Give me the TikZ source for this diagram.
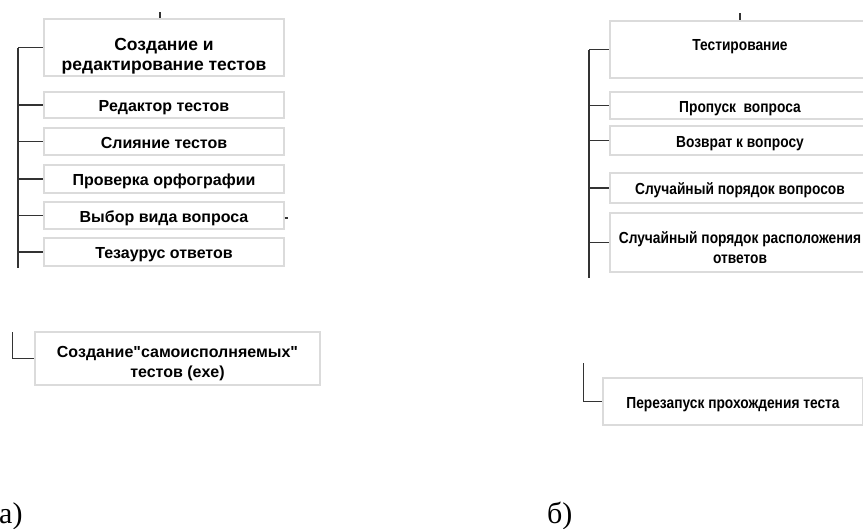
\documentclass[tikz,border=0pt]{standalone}
\usepackage{fontspec}
\setmainfont{Liberation Serif}
\newfontfamily\boxfont{Liberation Sans}
\newfontfamily\narrowfont[FakeStretch=0.86]{Liberation Sans}

\tikzset{
  box/.style={draw=black!14, line width=1.4pt, fill=white, inner sep=0pt},
  oneline/.style={text height=13pt, text depth=0pt},
  lbl/.style={font=\boxfont\bfseries\fontsize{16}{20}\selectfont, text=black, align=center},
  biglbl/.style={font=\boxfont\bfseries\fontsize{17.5}{20}\selectfont, text=black, align=center},
  rlbl/.style={font=\narrowfont\bfseries\fontsize{16}{20}\selectfont, text=black, align=center},
  wire/.style={draw=black!80, line width=1.3pt},
  caption/.style={font=\fontsize{30}{32}\selectfont, anchor=base west, inner sep=0pt}
}

\begin{document}
\begin{tikzpicture}[x=1pt, y=-1pt]
  \useasboundingbox (0,0) rectangle (863,528);
  \clip (0,0) rectangle (863,528);

  % ---- left tree: test creation and editing ----
  \node[box, minimum width=240pt, minimum height=57pt] (l0) at (164,47.5) {};
  \node[biglbl] (l0t) at (164,56) {Создание и\\редактирование тестов};
  \node[box, lbl, oneline, minimum width=240pt, minimum height=26pt] (l1) at (164,105) {Редактор тестов};
  \node[box, lbl, oneline, minimum width=240pt, minimum height=27pt] (l2) at (164,141.5) {Слияние тестов};
  \node[box, lbl, oneline, minimum width=240pt, minimum height=28pt] (l3) at (164,179) {Проверка орфографии};
  \node[box, lbl, oneline, minimum width=240pt, minimum height=27pt] (l4) at (164,215.5) {Выбор вида вопроса};
  \node[box, lbl, oneline, minimum width=240pt, minimum height=28pt] (l5) at (164,252) {Тезаурус ответов};
  \node[box, minimum width=285pt, minimum height=53pt] (lb) at (177.5,358.5) {};
  \node[lbl, font=\boxfont\bfseries\fontsize{16}{20}\selectfont] (lbt) at (177.5,364)
    {Создание"самоисполняемых"\\тестов (exe)};

  \coordinate (ltop) at (18,47.5);
  \coordinate (lend) at (18,268);
  \draw[wire] (ltop) -- (lend);
  \foreach \n in {l0,l1,l2,l3,l4,l5}
    \draw[wire] (\n.west -| ltop) -- (\n.west);

  \coordinate (ltick) at (160,12);
  \draw[wire] (ltick) -- (ltick |- l0.north);
  \coordinate (lside) at (288,218);
  \draw[wire] (lside -| l4.east) -- (lside);

  \coordinate (lbk) at (12,332);
  \draw[wire, line width=1pt] (lbk) |- (lb.west);

  % ---- right tree: testing ----
  \node[box, minimum width=260pt, minimum height=57pt] (r0) at (740,49.5) {};
  \node[rlbl] (r0t) at (740,47) {Тестирование};
  \node[box, rlbl, oneline, minimum width=260pt, minimum height=27pt] (r1) at (740,105.5) {Пропуск\ \ вопроса};
  \node[box, rlbl, oneline, minimum width=260pt, minimum height=29pt] (r2) at (740,140.5) {Возврат к вопросу};
  \node[box, rlbl, oneline, minimum width=260pt, minimum height=30pt] (r3) at (740,188) {Случайный порядок вопросов};
  \node[box, minimum width=260pt, minimum height=59pt] (r4) at (740,242.5) {};
  \node[rlbl] (r4t) at (740,248) {Случайный порядок расположения\\ответов};
  \node[box, rlbl, oneline, minimum width=260pt, minimum height=47pt] (rb) at (733,401.5) {Перезапуск прохождения теста};

  \coordinate (rtop) at (589,49.5);
  \coordinate (rend) at (589,278);
  \draw[wire] (rtop) -- (rend);
  \foreach \n in {r0,r1,r2,r3,r4}
    \draw[wire] (\n.west -| rtop) -- (\n.west);

  \coordinate (rtick) at (740,13);
  \draw[wire] (rtick) -- (rtick |- r0.north);

  \coordinate (rbk) at (583,363);
  \draw[wire, line width=1pt] (rbk) |- (rb.west);

  % ---- captions ----
  \node[caption] (capa) at (-1,523) {а)};
  \node[caption] (capb) at (547,523) {б)};
\end{tikzpicture}
\end{document}
